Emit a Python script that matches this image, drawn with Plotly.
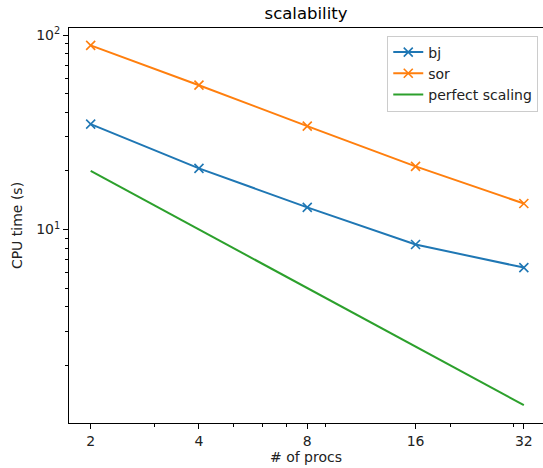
import plotly.graph_objects as go

procs = [2, 4, 8, 16, 32]
bj = [34.8, 20.6, 13.0, 8.37, 6.37]
sor = [88.5, 55.2, 34.0, 21.1, 13.6]
perfect = [20, 10, 5, 2.5, 1.25]

x_ticks = [2, 4, 8, 16, 32]
x_minor = [3, 5, 6, 7, 9, 20, 30]
y_ticks = [10, 100]
y_ticktext = ["10<sup>1</sup>", "10<sup>2</sup>"]
y_minor = [2, 3, 4, 5, 6, 7, 8, 9, 20, 30, 40, 50, 60, 70, 80, 90]

FONT = "DejaVu Sans"

fig = go.Figure()
fig.add_trace(go.Scatter(x=procs, y=bj, name="bj", mode="lines+markers",
                         line=dict(color="#1f77b4", width=2),
                         marker=dict(symbol="x-thin", size=9, line=dict(width=1.6, color="#1f77b4"))))
fig.add_trace(go.Scatter(x=procs, y=sor, name="sor", mode="lines+markers",
                         line=dict(color="#ff7f0e", width=2),
                         marker=dict(symbol="x-thin", size=9, line=dict(width=1.6, color="#ff7f0e"))))
fig.add_trace(go.Scatter(x=procs, y=perfect, name="perfect scaling", mode="lines",
                         line=dict(color="#2ca02c", width=2)))

fig.update_layout(
    width=543, height=468,
    margin=dict(l=69, r=0, t=28, b=45, autoexpand=False),
    paper_bgcolor="white", plot_bgcolor="white",
    font=dict(family=FONT, size=14, color="#222222"),
    title=dict(text="scalability", x=0.5, xref="paper", xanchor="center",
               y=1 - 13 / 468, yref="container", yanchor="middle",
               font=dict(size=16.5, family=FONT, color="black")),
    legend=dict(x=0.99, y=0.981, xanchor="right", yanchor="top",
                bgcolor="rgba(255,255,255,0.8)", bordercolor="#cccccc", borderwidth=1,
                font=dict(size=14, family=FONT, color="#222222"), tracegroupgap=0,
                itemwidth=30),
    showlegend=True,
)
fig.update_xaxes(type="log", range=[0.2408, 1.5584], automargin=False,
                 tickmode="array", tickvals=x_ticks, ticktext=[str(v) for v in x_ticks],
                 ticks="outside", ticklen=5, tickwidth=1, tickcolor="black",
                 showline=True, linecolor="black", linewidth=1, mirror=True,
                 showgrid=False, zeroline=False,
                 minor=dict(tickmode="array", tickvals=x_minor, ticks="outside",
                            ticklen=3, tickwidth=0.8, tickcolor="black", showgrid=False),
                 title=dict(text="# of procs", standoff=3, font=dict(size=14)))
fig.update_yaxes(type="log", range=[0.005, 2.036], automargin=False,
                 tickmode="array", tickvals=y_ticks, ticktext=y_ticktext,
                 ticks="outside", ticklen=5, tickwidth=1, tickcolor="black",
                 showline=True, linecolor="black", linewidth=1, mirror=False,
                 showgrid=False, zeroline=False,
                 minor=dict(tickmode="array", tickvals=y_minor, ticks="outside",
                            ticklen=3, tickwidth=0.8, tickcolor="black", showgrid=False),
                 title=dict(text="CPU time (s)", standoff=10, font=dict(size=14)))

fig.write_html("out.html", config={"displayModeBar": False},
               post_script="document.body.style.margin='0px';document.body.style.overflow='hidden';")
